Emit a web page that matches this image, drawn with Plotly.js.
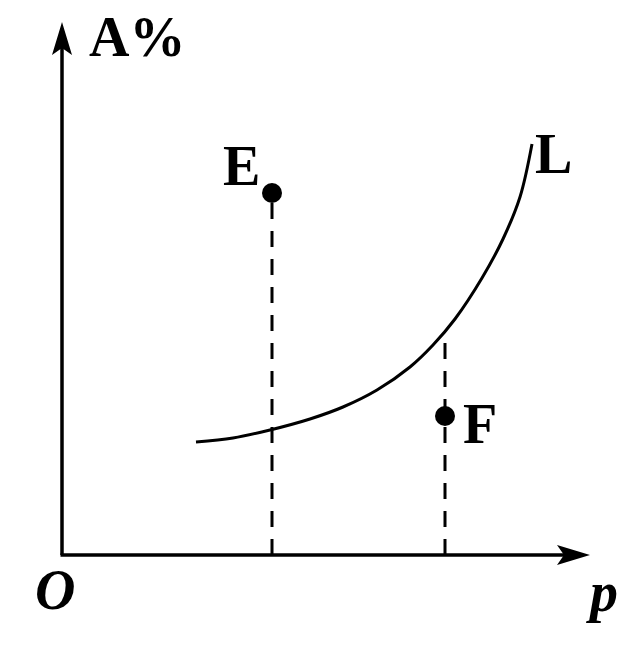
<!DOCTYPE html>
<html>
<head>
<meta charset="utf-8">
<script src="https://cdn.plot.ly/plotly-3.0.1.min.js"></script>
<style>html,body{margin:0;padding:0;background:#fff;}</style>
</head>
<body>
<div id="chart" style="width:640px;height:651px;"></div>
<script>
// Curve L (p, A%) in chart units
const curveP = [134, 171, 208, 248, 281, 315, 348, 371, 393, 420, 441, 458, 470];
const curveA = [113, 117, 125, 136, 148, 165, 188, 210, 236, 277, 316, 358, 411];
// Points E and F
const pointNames = ["E", "F"];
const pointP = [210, 383];
const pointA = [362, 139];
// top of the dashed guide line for each point
const guideTop = [362, 215];
// axis extents (arrow tips)
const xMax = 528, yMax = 533;

const FONT = "Liberation Serif, Times New Roman, serif";

const traces = [];
// dashed guides
for (let i = 0; i < pointP.length; i++) {
  traces.push({
    x: [pointP[i], pointP[i]], y: [0, guideTop[i]],
    mode: "lines", line: {color: "#000", width: 3, dash: "16px,12px"},
    hoverinfo: "skip", showlegend: false
  });
}
// curve
traces.push({
  x: curveP, y: curveA, mode: "lines",
  line: {color: "#000", width: 3, shape: "spline", smoothing: 1},
  hoverinfo: "skip", showlegend: false
});
// axes lines
traces.push({x: [-1.5, xMax - 26], y: [0, 0], mode: "lines", line: {color: "#000", width: 3.5}, showlegend: false, hoverinfo: "skip"});
traces.push({x: [0, 0], y: [0, yMax - 26], mode: "lines", line: {color: "#000", width: 3.5}, showlegend: false, hoverinfo: "skip"});
// points
traces.push({
  x: pointP, y: pointA, mode: "markers",
  marker: {color: "#000", size: 20},
  hoverinfo: "skip", showlegend: false
});

const shapes = [
  {type: "path", xref: "x", yref: "y",
   path: `M ${xMax},0 L ${xMax-33},10 L ${xMax-26},0 L ${xMax-33},-10 Z`,
   fillcolor: "#000", line: {width: 0}},
  {type: "path", xref: "x", yref: "y",
   path: `M 0,${yMax} L -10,${yMax-33} L 0,${yMax-26} L 10,${yMax-33} Z`,
   fillcolor: "#000", line: {width: 0}}
];

function lab(text, x, y, size, italic) {
  return {text: italic ? "<i>" + text + "</i>" : text, x: x, y: y, xref: "x", yref: "y",
    showarrow: false, xanchor: "center", yanchor: "middle",
    font: {family: FONT, size: size, color: "#000", weight: "bold"}};
}

const annotations = [
  lab("A%", 75, 518, 56, false),
  lab(pointNames[0], 179, 389, 56, false),
  lab("L", 491, 401, 56, false),
  lab(pointNames[1], 418, 131, 56, false),
  lab("O", -7, -35, 56, true),
  lab("p", 540, -37, 56, true)
];

const layout = {
  width: 640, height: 651, autosize: false,
  margin: {l: 0, r: 0, t: 0, b: 0, pad: 0},
  paper_bgcolor: "#fff", plot_bgcolor: "#fff",
  xaxis: {range: [-62, 578], visible: false, fixedrange: true},
  yaxis: {range: [-96, 555], visible: false, fixedrange: true},
  shapes: shapes, annotations: annotations, showlegend: false
};

Plotly.newPlot("chart", traces, layout, {displayModeBar: false, staticPlot: true});
</script>
</body>
</html>
